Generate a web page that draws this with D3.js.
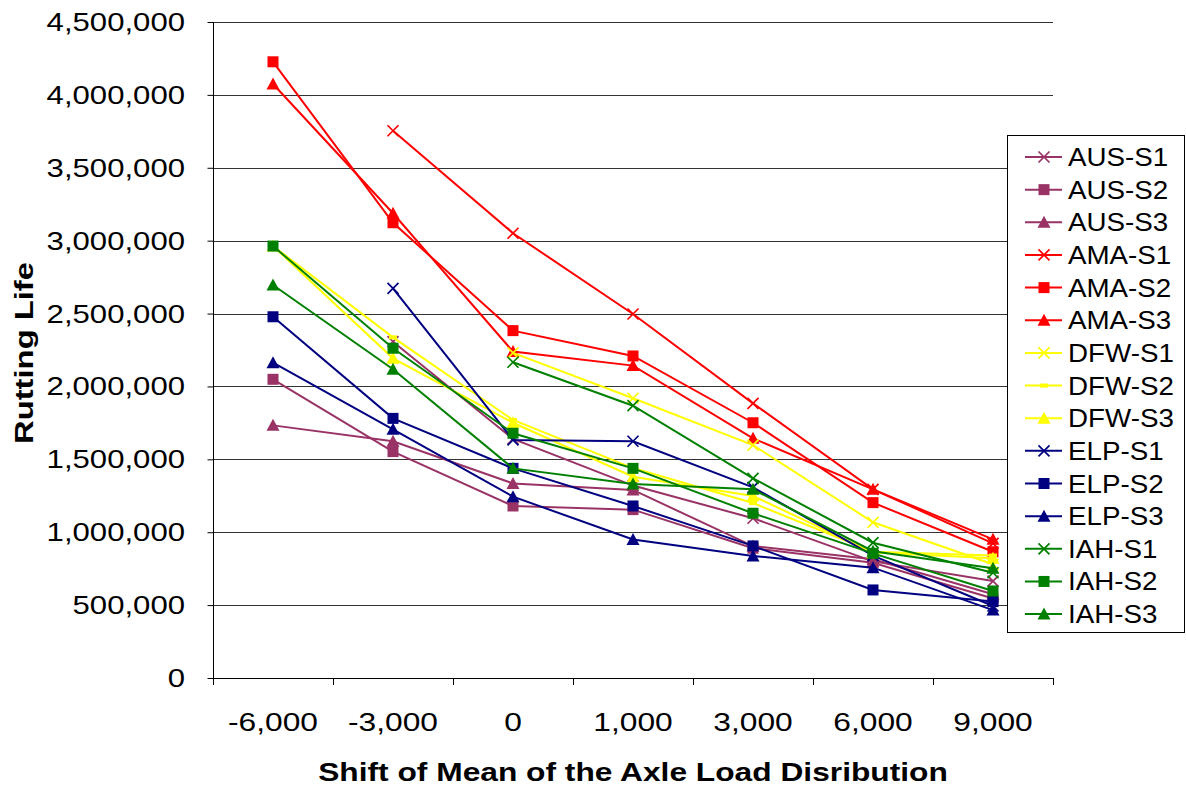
<!DOCTYPE html>
<html>
<head>
<meta charset="utf-8">
<script src="https://cdn.jsdelivr.net/npm/d3@7"></script>
<style>
  html, body { margin: 0; padding: 0; background: #fff; }
  svg { display: block; font-family: "Liberation Sans", Arial, sans-serif; }
</style>
</head>
<body>
<svg id="chart" width="1186" height="791"></svg>
<script>
// Shift of the axle-load distribution mean (categories on the x axis)
const categories = ["-6,000", "-3,000", "0", "1,000", "3,000", "6,000", "9,000"];
const yTicks = [0, 500000, 1000000, 1500000, 2000000, 2500000, 3000000, 3500000, 4000000, 4500000];

// Rutting life per site / structure (null = no value at that shift)
const ausS1 = [null, 2307000, 1640000, 1320000, 1096000, 800000, 665000];
const ausS2 = [2049000, 1553000, 1180000, 1155000, 890000, 790000, 545000];
const ausS3 = [1733000, 1624000, 1335000, 1290000, 905000, 815000, 575000];
const amaS1 = [null, 3754000, 3051000, 2497000, 1884000, 1294000, 924000];
const amaS2 = [4227000, 3123000, 2383000, 2209000, 1751000, 1203000, 866000];
const amaS3 = [4075000, 3188000, 2239000, 2143000, 1644000, 1294000, 951000];
const dfwS1 = [null, null, 2230000, 1919000, 1598000, 1068000, 780000];
const dfwS2 = [2963000, 2337000, 1770000, 1440000, 1200000, 866000, 840000];
const dfwS3 = [2963000, 2193000, 1751000, 1381000, 1249000, 860000, 821000];
const elpS1 = [null, 2673000, 1633000, 1624000, 1308000, 840000, 494000];
const elpS2 = [2478000, 1781000, 1438000, 1180000, 906000, 604000, 524000];
const elpS3 = [2163000, 1706000, 1244000, 950000, 837000, 757000, 466000];
const iahS1 = [null, null, 2166000, 1868000, 1370000, 928000, 722000];
const iahS2 = [2963000, 2262000, 1679000, 1438000, 1130000, 855000, 597000];
const iahS3 = [2696000, 2118000, 1438000, 1331000, 1294000, 870000, 753000];

const seriesNames = ["AUS-S1","AUS-S2","AUS-S3","AMA-S1","AMA-S2","AMA-S3","DFW-S1","DFW-S2","DFW-S3","ELP-S1","ELP-S2","ELP-S3","IAH-S1","IAH-S2","IAH-S3"];
const seriesValues = [ausS1, ausS2, ausS3, amaS1, amaS2, amaS3, dfwS1, dfwS2, dfwS3, elpS1, elpS2, elpS3, iahS1, iahS2, iahS3];
const seriesColors = ["#993366","#993366","#993366","#FF0000","#FF0000","#FF0000","#FFFF00","#FFFF00","#FFFF00","#000080","#000080","#000080","#008000","#008000","#008000"];
const seriesMarkers = ["x","square","triangle","x","square","triangle","x","dash","triangle","x","square","triangle","x","square","triangle"];

const series = seriesNames.map((name, i) => ({
  name, values: seriesValues[i], color: seriesColors[i], marker: seriesMarkers[i]
}));

const svg = d3.select("#chart");
const plot = { left: 213, right: 1053, top: 22, bottom: 678 };

const x = d3.scaleBand().domain(categories).range([plot.left, plot.right]);
const y = d3.scaleLinear().domain([0, 4500000]).range([plot.bottom, plot.top]);
const cx = c => x(c) + x.bandwidth() / 2;
const fmt = d3.format(",");

// text helper: wide-set glyphs (horizontal stretch)
function label(g, tx, ty, str, opts) {
  const o = Object.assign({ size: 25, sx: 1.25, anchor: "start", weight: "normal", rotate: 0 }, opts);
  return g.append("text")
    .attr("transform", `translate(${tx},${ty}) rotate(${o.rotate}) scale(${o.sx},1)`)
    .attr("text-anchor", o.anchor)
    .attr("font-size", o.size)
    .attr("font-weight", o.weight)
    .attr("fill", "#000")
    .text(str);
}

// horizontal gridlines
svg.append("g").selectAll("line").data(yTicks.filter(v => v > 0)).join("line")
  .attr("x1", plot.left).attr("x2", plot.right)
  .attr("y1", d => Math.round(y(d)) + 0.5).attr("y2", d => Math.round(y(d)) + 0.5)
  .attr("stroke", "#333").attr("stroke-width", 1);

// y axis line, ticks and labels
const yAxis = svg.append("g").attr("transform", `translate(${plot.left + 0.5},0)`)
  .call(d3.axisLeft(y).tickValues(yTicks).tickFormat("").tickSize(6));
yAxis.select(".domain").attr("stroke", "#000").attr("d", `M0,${plot.top}V${plot.bottom}`);
yAxis.selectAll(".tick line").attr("stroke", "#000");
const gyl = svg.append("g");
yTicks.forEach(v => label(gyl, 185, y(v) + 9, fmt(v), { anchor: "end", size: 25, sx: 1.245 }));

// x axis line, boundary ticks and labels
svg.append("line").attr("x1", plot.left).attr("x2", plot.right)
  .attr("y1", plot.bottom + 0.5).attr("y2", plot.bottom + 0.5).attr("stroke", "#000");
const bounds = categories.map(c => x(c)).concat([plot.right]);
svg.append("g").selectAll("line").data(bounds).join("line")
  .attr("x1", d => Math.round(d) + 0.5).attr("x2", d => Math.round(d) + 0.5)
  .attr("y1", plot.bottom).attr("y2", plot.bottom + 7)
  .attr("stroke", "#000");
const gxl = svg.append("g");
categories.forEach(c => label(gxl, cx(c), 731, c, { anchor: "middle", size: 25, sx: 1.27 }));

// axis titles
label(svg, 633, 781, "Shift of Mean of the Axle Load Disribution", { anchor: "middle", size: 26, sx: 1.22, weight: "bold" });
label(svg, 33, 353, "Rutting Life", { anchor: "middle", size: 26, sx: 1.26, weight: "bold", rotate: -90 });

// marker drawing
function drawMarker(g, type, color, px, py) {
  if (type === "square") {
    g.append("rect").attr("x", px - 5.5).attr("y", py - 5.5).attr("width", 11).attr("height", 11).attr("fill", color);
  } else if (type === "triangle") {
    g.append("path").attr("d", `M${px},${py - 6.5}L${px + 6.5},${py + 5.5}L${px - 6.5},${py + 5.5}Z`).attr("fill", color);
  } else if (type === "x") {
    g.append("path").attr("d", `M${px - 5.5},${py - 5.5}L${px + 5.5},${py + 5.5}M${px - 5.5},${py + 5.5}L${px + 5.5},${py - 5.5}`)
      .attr("stroke", color).attr("stroke-width", 1.7).attr("fill", "none");
  } else if (type === "dash") {
    g.append("rect").attr("x", px - 4).attr("y", py - 2).attr("width", 8).attr("height", 4).attr("fill", color);
  }
}

// series lines and markers
const line = d3.line()
  .defined(d => d.v != null)
  .x(d => cx(d.c)).y(d => y(d.v));

const gSeries = svg.append("g");
series.forEach(s => {
  const pts = categories.map((c, i) => ({ c, v: s.values[i] }));
  const g = gSeries.append("g");
  g.append("path").attr("d", line(pts)).attr("fill", "none")
    .attr("stroke", s.color).attr("stroke-width", 2);
  pts.filter(p => p.v != null).forEach(p => drawMarker(g, s.marker, s.color, cx(p.c), y(p.v)));
});

// legend
const lg = svg.append("g");
lg.append("rect").attr("x", 1007.5).attr("y", 135.5).attr("width", 177).attr("height", 497)
  .attr("fill", "#fff").attr("stroke", "#000").attr("stroke-width", 1);
series.forEach((s, i) => {
  const ly = 157 + i * 32.65;
  lg.append("line").attr("x1", 1025).attr("x2", 1062).attr("y1", ly).attr("y2", ly)
    .attr("stroke", s.color).attr("stroke-width", 2);
  drawMarker(lg, s.marker, s.color, 1044, ly);
  label(lg, 1068, ly + 9, s.name, { size: 25, sx: 1.11 });
});
</script>
</body>
</html>
